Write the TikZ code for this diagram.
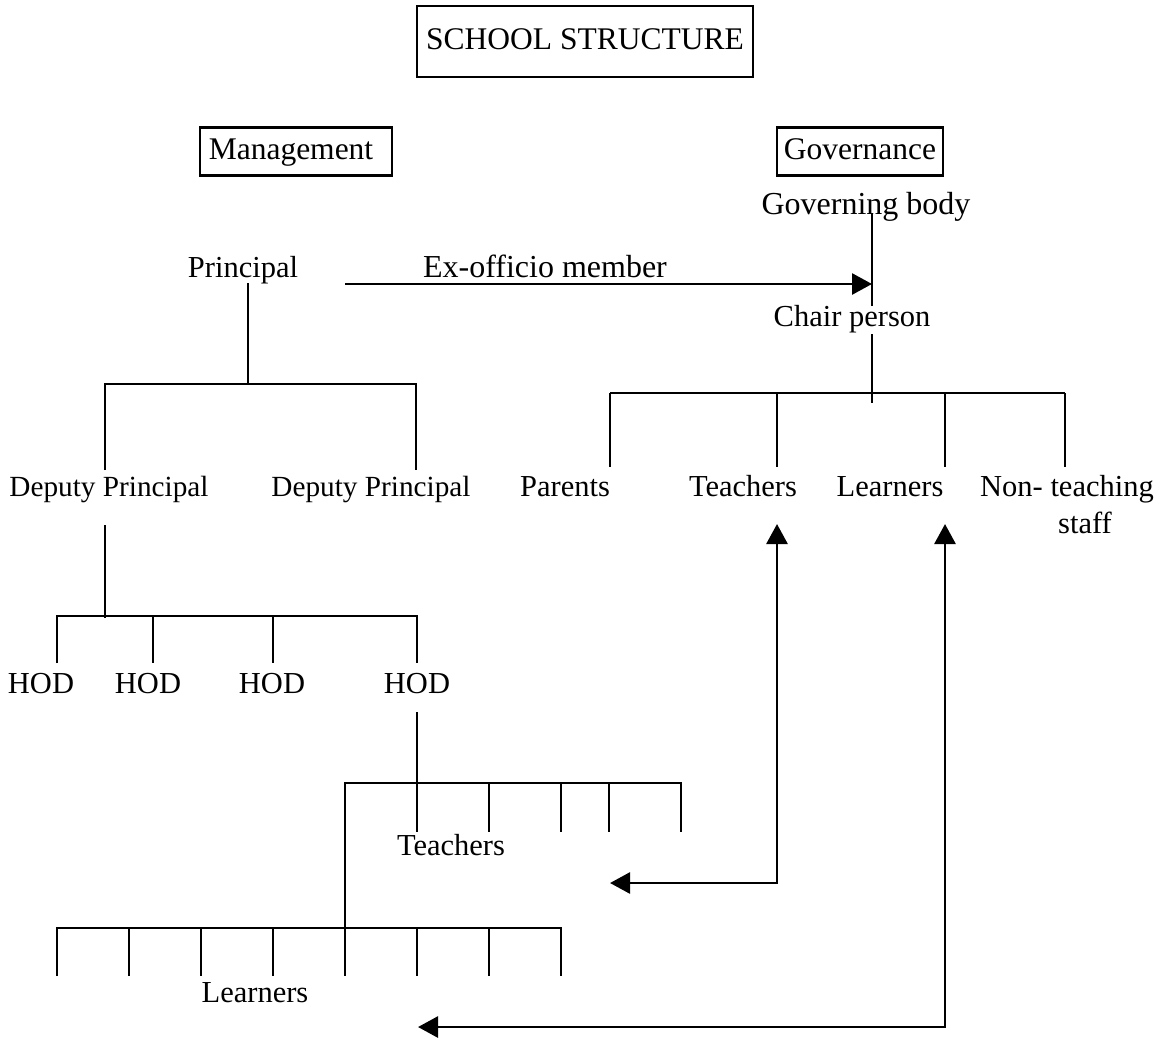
\documentclass[tikz,border=0pt]{standalone}
\usepackage{fontspec}
\setmainfont{Liberation Serif}
\usetikzlibrary{arrows.meta, positioning}
\tikzset{
  txt/.style={font=\fontsize{12.2}{14}\selectfont, inner sep=1pt,
    text height=0.7em, text depth=0.22em, yshift=-1.6pt},
  bigtxt/.style={txt, font=\fontsize{12.8}{15}\selectfont},
  boxed/.style={font=\fontsize{12.6}{15}\selectfont, draw, line width=1pt,
    inner sep=0pt, text height=0.7em, text depth=0.05em},
  line/.style={line width=1.1pt},
  arrow/.style={-{Triangle[length=8pt,width=8.4pt]}, line width=1.1pt},
  twoway/.style={{Triangle[length=8pt,width=8.4pt]}-{Triangle[length=8pt,width=8.4pt]},
    line width=1.1pt}
}

\begin{document}
\begin{tikzpicture}[x=40pt, y=-40pt]
  \useasboundingbox (0,0) rectangle (11.62,10.38);

  % headings
  \node[boxed, minimum width=134.4pt, minimum height=28.4pt] (title) at (5.85,0.415) {SCHOOL STRUCTURE};
  \node[boxed, minimum width=76.8pt, minimum height=19.2pt] (mgmt) at (2.96,1.515) {Management\hspace*{4pt}};
  \node[boxed, minimum width=66.4pt, minimum height=19.2pt] (gov) at (8.60,1.515) {Governance};

  % governance side
  \node[bigtxt] (govbody) at (8.66,2.04) {Governing body};
  \coordinate (gtop) at (8.72,2.13);
  \coordinate (gbar) at (8.72,3.93);
  \draw[line] (gtop) -- ([yshift=-4pt]gbar);
  \node[txt, fill=white] (chair) at (8.52,3.16) {Chair person};

  \draw[line] (6.10,3.93) -- (10.65,3.93);
  \foreach \x in {6.10,7.77,9.45,10.65}
    \draw[line] (\x,3.93) -- (\x,4.67);

  \node[txt] (parents) at (5.65,4.86) {Parents};
  \node[txt] (teachG) at (7.43,4.86) {Teachers};
  \node[txt] (learnG) at (8.90,4.86) {Learners};
  \node[txt] (nonteach) at (10.67,4.86) {Non- teaching};
  \node[txt, below=1.6pt of nonteach, xshift=7.2pt] (staff) {staff};

  % principal to governing body
  \node[txt] (prin) at (2.43,2.67) {Principal};
  \node[bigtxt] (exoff) at (5.45,2.67) {Ex-officio member};
  \coordinate (exstart) at (3.45,2.84);
  \draw[arrow] (exstart) -- (exstart -| gtop);

  % management side
  \draw[line] (2.48,2.83) -- (2.48,3.84);
  \draw[line] (1.05,4.70) |- (4.16,3.84) -- (4.16,4.70);
  \node[txt, font=\fontsize{11.7}{14}\selectfont] (dpA) at (1.09,4.86) {Deputy Principal};
  \node[txt, font=\fontsize{11.7}{14}\selectfont] (dpB) at (3.71,4.86) {Deputy Principal};

  \draw[line] (1.05,5.25) -- (1.05,6.18);
  \draw[line] (0.57,6.63) |- (4.17,6.16) -- (4.17,6.63);
  \foreach \x in {1.53,2.73}
    \draw[line] (\x,6.16) -- (\x,6.63);
  \node[txt] (hodA) at (0.41,6.83) {HOD};
  \node[txt] (hodB) at (1.48,6.83) {HOD};
  \node[txt] (hodC) at (2.72,6.83) {HOD};
  \node[txt] (hodD) at (4.17,6.83) {HOD};

  % teachers and learners
  \draw[line] (4.17,7.12) -- (4.17,8.32);
  \draw[line] (3.45,9.28) |- (6.81,7.83) -- (6.81,8.32);
  \foreach \x in {4.89,5.61,6.09}
    \draw[line] (\x,7.83) -- (\x,8.32);
  \node[txt] (teachS) at (4.51,8.45) {Teachers};

  \draw[line] (0.57,9.76) |- (5.61,9.28) -- (5.61,9.76);
  \foreach \x in {1.29,2.01,2.73,3.45,4.17,4.89}
    \draw[line] (\x,9.28) -- (\x,9.76);
  \node[txt] (learnS) at (2.55,9.92) {Learners};

  % links between both sides
  \draw[twoway] (6.10,8.83) -| (7.77,5.24);
  \draw[twoway] (4.18,10.27) -| (9.45,5.24);
\end{tikzpicture}
\end{document}
